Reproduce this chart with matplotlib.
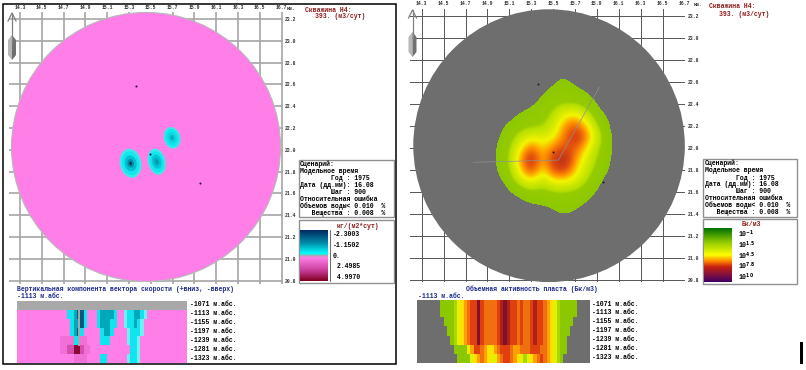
import numpy as np
import matplotlib
matplotlib.use("Agg")
import matplotlib.pyplot as plt
from matplotlib.colors import LinearSegmentedColormap, ListedColormap
from matplotlib.patches import Ellipse, Rectangle, Polygon

W, H = 806, 370
FONT = "Liberation Mono"
plt.rcParams["font.family"] = [FONT, "DejaVu Sans Mono"]
plt.rcParams["font.weight"] = "bold"
RED = "#8a1c1c"
NAVY = "#1c2a8a"

x_ticks = [14.3, 14.5, 14.7, 14.9, 15.1, 15.3, 15.5, 15.7, 15.9, 16.1, 16.3, 16.5, 16.7]
y_ticks = [23.2, 23.0, 22.8, 22.6, 22.4, 22.2, 22.0, 21.8, 21.6, 21.4, 21.2, 21.0, 20.8]
well_x = [15.365, 15.495, 15.955]
well_y = [22.583, 21.964, 21.691]
left_center_x, left_center_y, left_radius = 15.456, 22.026, 1.234
right_center_x, right_center_y, right_radius = 15.463, 22.021, 1.24

# left map: plume ellipses (x, y, half-width, half-height, tilt)
plume_x = [15.315, 15.554, 15.695]
plume_y = [21.876, 21.891, 22.110]
plume_a = [0.098, 0.080, 0.076]
plume_b = [0.135, 0.122, 0.100]
plume_tilt = [12, 14, 14]
plume_scale = [1.0, 0.82, 0.55, 0.3, 0.12]
plume_colors = [["#40e8e8", "#10e8ee", "#00c0d0", "#0090a8", "#103050"],
                ["#40e8e8", "#10e8ee", "#00c8d8", "#00a8b8", "#0090a8"],
                ["#40e8e8", "#10e8ee", "#10d8e0", "#00c0d0", "#00a0b0"]]

# right map: activity level read on a 0.1 km grid
field_x = [14.8, 14.9, 15.0, 15.1, 15.2, 15.3, 15.4, 15.5, 15.6, 15.7, 15.8, 15.9, 16.0, 16.1, 16.2]
field_y = [22.6, 22.5, 22.4, 22.3, 22.2, 22.1, 22.0, 21.9, 21.8, 21.7, 21.6, 21.5, 21.4]
field = [
 [0, 0, 0,   0,   0,   0,   0,   0.9, 1.0, 0.8, 0,   0,   0,   0, 0],
 [0, 0, 0,   0,   0,   0,   1.0, 1.5, 1.6, 1.5, 1.2, 0.3, 0,   0, 0],
 [0, 0, 0,   0,   0.2, 0.8, 1.5, 1.8, 1.9, 1.9, 1.7, 1.0, 0,   0, 0],
 [0, 0, 0,   0.5, 1.3, 1.6, 1.7, 2.1, 3.0, 3.2, 2.4, 1.5, 0.9, 0, 0],
 [0, 0, 0.6, 1.4, 1.7, 1.8, 1.9, 2.5, 3.8, 4.5, 3.4, 2.0, 1.2, 0, 0],
 [0, 0, 1.0, 1.7, 2.3, 2.9, 2.7, 3.0, 4.1, 5.3, 4.1, 2.4, 1.4, 0.3, 0],
 [0, 0.3, 1.2, 1.9, 3.0, 4.3, 3.2, 4.1, 4.6, 4.4, 3.2, 2.1, 1.4, 0.3, 0],
 [0, 0.3, 1.3, 2.0, 3.7, 5.5, 3.5, 5.0, 5.7, 3.8, 2.7, 1.9, 1.3, 0.2, 0],
 [0, 0.1, 1.2, 1.9, 3.3, 4.8, 3.0, 4.6, 4.8, 3.4, 2.4, 1.7, 1.1, 0, 0],
 [0, 0, 0.7, 1.6, 2.4, 3.0, 2.3, 3.0, 3.1, 2.7, 2.0, 1.4, 0.5, 0, 0],
 [0, 0, 0,   1.0, 1.5, 1.8, 1.7, 1.9, 1.9, 1.8, 1.5, 1.0, 0,   0, 0],
 [0, 0, 0,   0,   0.7, 1.1, 1.3, 1.4, 1.5, 1.4, 1.0, 0.2, 0,   0, 0],
 [0, 0, 0,   0,   0,   0,   0,   0.8, 0.9, 0.8, 0.2, 0,   0,   0, 0],
]
flow_x = [14.771, 15.548, 15.922]
flow_y = [21.870, 21.890, 22.552]

depth_labels = ["-1071 м.абс.", "-1113 м.абс.", "-1155 м.абс.", "-1197 м.абс.",
                "-1239 м.абс.", "-1281 м.абс.", "-1323 м.абс."]

section_left = [
 "G" * 51,
 "P"*15 + "cctddc" + "P"*3 + "cttttc" + "P"*2 + "lccttcl" + "P"*12,
 "P"*16 + "cttdc" + "P"*3 + "ctttcc" + "P"*2 + "lcctcl" + "P"*13,
 "P"*16 + "ctdc" + "P"*5 + "cttc" + "P"*4 + "lcccl" + "P"*13,
 "P"*13 + "mmmm" + "cc" + "mm" + "P"*4 + "ccc" + "P"*5 + "lccl" + "P"*14,
 "P"*13 + "mmnn" + "rr" + "nmm" + "P"*12 + "ccl" + "P"*14,
 "P"*17 + "mmmm" + "P"*4 + "cc" + "P"*6 + "lccl" + "P"*14,
]
left_codes = "GPmnrlctd"
left_palette = ["#a8a8a8", "#ff7ee8", "#f070d8", "#d84cb0", "#8a0a30",
                "#70f0f0", "#10e4ee", "#00a8bc", "#005a80"]

section_right = [
 "GGGGGGGaaaabyYoORRKROOOORDKDRROROORDRROoYybaaaaaGGGG",
 "GGGGGGGaaaabyYoORRKROOOORDKDRROROORDRROoYybaaaaaGGGG",
 "GGGGGGGGaaabyYoORRKROOOORDKDRROROORDRROoYybaaaaGGGGG",
 "GGGGGGGGGaabyYoORRKROOOORDKDRROROORDRROoYybaaaGGGGGG",
 "GGGGGGGGGGabyYoORRKROOOORDKDRROROORDRROoYybaaGGGGGGG",
 "GGGGGGGGGGGaaaa" + "yoRROoYYoORRROooOOORRROOoYybaa" + "GGGGGGG",
 "GGGGGGGGGGGGaaaa" + "yYoOoYyyoORROoYybyYoOROoYyb" + "a" + "GGGGGGGG",
]
right_codes = "GabyYoORDK"
right_palette = ["#6e6e6e", "#8cc800", "#a8d800", "#e4f000", "#ffe000",
                 "#ffa000", "#f07010", "#e04010", "#b02018", "#801030"]

vel_colors = ["#002a60", "#008ca8", "#00ffff", "#a8a8a8", "#ff80e8", "#c83c98", "#800020"]
vel_stops = [0.0, 0.25, 0.46, 0.5, 0.54, 0.8, 1.0]
act_colors = ["#007000", "#8cc800", "#ffff00", "#ff8000", "#c82010", "#801040", "#400060"]
act_stops = [0.0, 0.25, 0.5, 0.62, 0.72, 0.87, 1.0]
field_colors = ["#8cc800", "#96cc00", "#b8e000", "#f4f400", "#ff9800", "#e04a10", "#8a1820"]
field_stops = [0.0, 0.18, 0.22, 0.42, 0.56, 0.72, 1.0]

info_lines = ["Сценарий:", "Модельное время", "        Год : 1975", "Дата (дд.мм): 16.08",
              "        Шаг : 900", "Относительная ошибка", "Объемов воды< 0.010  %",
              "   Вещества : 0.008  %"]
vel_ticks = ["-2.3003", "-1.1502", "0.", " 2.4985", " 4.9970"]
act_ticks = ["10$^{-1}$", "10$^{1.5}$", "10$^{4.5}$", "10$^{7.8}$", "10$^{10}$"]

fig = plt.figure(figsize=(W / 100, H / 100), dpi=100, facecolor="white")


def px_axes(x0, y0, x1, y1, **kw):
    return fig.add_axes([x0 / W, 1 - y1 / H, (x1 - x0) / W, (y1 - y0) / H], **kw)


def ftext(x, y, s, size=4.7, color="black", ha="left", **kw):
    fig.text(x / W, 1 - y / H, s, fontsize=size, color=color, ha=ha, va="center", **kw)


def frect(x0, y0, x1, y1, **kw):
    fig.add_artist(Rectangle((x0 / W, 1 - y1 / H), (x1 - x0) / W, (y1 - y0) / H,
                             transform=fig.transFigure, **kw))


def make_map(x14, x_step, y23, y_step, left, top, right, bottom, grid_c, grid_lw, pad):
    ax = px_axes(left, top, right, bottom)
    ax.set_xlim(14.3 + (left - x14) / x_step, 14.3 + (right - x14) / x_step)
    ax.set_ylim(23.2 - (bottom - y23) / y_step, 23.2 - (top - y23) / y_step)
    ax.patch.set_alpha(0)
    for s in ax.spines.values():
        s.set_visible(False)
    ax.xaxis.tick_top()
    ax.yaxis.tick_right()
    ax.set_xticks(x_ticks, [f"{v:.1f}" for v in x_ticks])
    ax.set_yticks(y_ticks, [f"{v:.1f}" for v in y_ticks])
    ax.tick_params(length=0, labelsize=3.4, pad=pad, colors="#303030")
    ax.grid(True, color=grid_c, lw=grid_lw)
    ax.set_axisbelow(True)
    return ax


def compass(x, top):
    fig.add_artist(plt.Line2D([(x) / W] * 2, [1 - top / H, 1 - (top + 30) / H], color="#808080", lw=0.9))
    fig.add_artist(plt.Line2D([(x - 4) / W, x / W, (x + 4) / W], [1 - (top + 8) / H, 1 - top / H, 1 - (top + 8) / H],
                              color="#808080", lw=0.9))
    left = [(x - 4, top + 27), (x, top + 22), (x, top + 47), (x - 4, top + 42)]
    right = [(x, top + 22), (x + 4, top + 27), (x + 4, top + 42), (x, top + 47)]
    for pts, c in ((left, "#b8b8b8"), (right, "#707070")):
        fig.add_artist(Polygon([(a / W, 1 - b / H) for a, b in pts], closed=True, color=c,
                               transform=fig.transFigure, lw=0))


def gradient(x0, y0, x1, y1, stops, colors):
    ax = px_axes(x0, y0, x1, y1, zorder=6)
    cmap = LinearSegmentedColormap.from_list("g", list(zip(stops, colors)))
    ax.imshow(np.linspace(0, 1, 128)[:, None], aspect="auto", cmap=cmap)
    ax.axis("off")


def section(x0, y0, x1, y1, rows, codes, palette):
    ax = px_axes(x0, y0, x1, y1)
    data = [[codes.index(ch) for ch in row] for row in rows]
    ax.imshow(data, aspect="auto", cmap=ListedColormap(palette), vmin=0, vmax=len(palette) - 1,
              interpolation="nearest")
    ax.axis("off")
    return ax


def info_box(x0, x1, y0, y_div, y2, y_bot, text_x):
    frect(x0, y0, x1, y_div, fc="white", ec="#909090", lw=1, zorder=3)
    frect(x0, y2, x1, y_bot, fc="white", ec="#909090", lw=1, zorder=3)
    for line, y in zip(info_lines, [164.3, 171.7, 179, 185.7, 192.3, 199.3, 206.7, 213.3]):
        fig.text(text_x / W, 1 - (y + y0 - 160) / H, line, fontsize=4.7, color="black", va="center", zorder=5)


# LEFT PANEL ---------------------------------------------------------------
frect(3, 3.5, 396, 364, fc="none", ec="black", lw=1.1, zorder=6)
axL = make_map(20, 109, 19, 109, 9, 11.5, 283, 284, "#a6a6a6", 1.2, 1)
axL.add_patch(Ellipse((left_center_x, left_center_y), 2 * left_radius, 2 * left_radius,
                      fc="#ff7ee8", ec="#b8b8b8", lw=0.8, zorder=2))
for px, py, a, b, t, cols in zip(plume_x, plume_y, plume_a, plume_b, plume_tilt, plume_colors):
    for s, c in zip(plume_scale, cols):
        axL.add_patch(Ellipse((px, py), 2 * a * s, 2 * b * s, angle=t, fc=c, ec="none", zorder=3))
axL.scatter(well_x, well_y, s=2.2, color="#200040", lw=0, zorder=4)
compass(12, 13)
ftext(305, 10, "Скважина Н4:", color=RED)
ftext(315, 17, "393. (м3/сут)", color=RED)
ftext(287, 8, "км.", size=3.4, color="#303030")

info_box(299, 394, 160, 217, 220, 283, 300)
gradient(299.5, 230, 327, 281, vel_stops, vel_colors)
fig.add_artist(plt.Line2D([330 / W] * 2, [1 - 230 / H, 1 - 281 / H], color="#505050", lw=0.6, zorder=5))
ftext(358, 226.7, "кг/(м2*сут)", color=RED, ha="center", zorder=5)
for s, y in zip(vel_ticks, [234, 245.7, 256, 266.7, 277.7]):
    ftext(333, y, s, zorder=5)

ftext(17, 289.3, "Вертикальная компонента вектора скорости (+вниз, -вверх)", color=NAVY)
ftext(17, 296.7, "-1113 м.абс.", color=NAVY)
axS = section(17, 301, 187, 363, section_left, left_codes, left_palette)
axS.plot([18, 18], [0, 4.5], color="#a8a8a8", lw=1.4)
axS.set_xlim(-0.5, 50.5)
axS.set_ylim(6.5, -0.5)
for i, s in enumerate(depth_labels):
    ftext(190, 304.3 + 8.95 * i, s)

# RIGHT PANEL --------------------------------------------------------------
axR = make_map(421.7, 109.5, 16, 110, 410, 9, 685, 282, "#555555", 0.7, 2)
axR.add_patch(Ellipse((right_center_x, right_center_y), 2 * right_radius, 2 * right_radius,
                      fc="#6e6e6e", ec="none", zorder=2))
fcmap = LinearSegmentedColormap.from_list("f", list(zip(field_stops, field_colors)))
fcmap.set_under((0, 0, 0, 0))
dx, dy = 0.05, 0.05
axR.imshow(field, extent=[field_x[0] - dx, field_x[-1] + dx, field_y[-1] - dy, field_y[0] + dy],
           cmap=fcmap, vmin=1, vmax=6, interpolation="bicubic", interpolation_stage="data",
           aspect="auto", zorder=3)
axR.plot(flow_x, flow_y, color="#909090", lw=0.5, zorder=4)
axR.scatter(well_x, well_y, s=2.2, color="#202020", lw=0, zorder=5)
axR.set_xlim(14.3 + (410 - 421.7) / 109.5, 14.3 + (685 - 421.7) / 109.5)
axR.set_ylim(23.2 - (282 - 16) / 110, 23.2 - (9 - 16) / 110)
compass(412.5, 10)
ftext(709, 7, "Скважина Н4:", color=RED)
ftext(719, 14, "393. (м3/сут)", color=RED)
ftext(694, 5, "км.", size=3.4, color="#303030")

info_box(703, 797, 159, 216.5, 219, 284, 705)
gradient(703.5, 228, 731, 282, act_stops, act_colors)
ftext(751.7, 224.5, "Бк/м3", color=RED, ha="center", zorder=5)
for s, y in zip(act_ticks, [234.5, 245, 256, 266.7, 277]):
    ftext(737.7, y, s, size=4.7, zorder=5)

ftext(465.7, 289, "Объемная активность пласта (Бк/м3)", color=NAVY)
ftext(418, 296, "-1113 м.абс.", color=NAVY)
section(417.3, 300, 590, 363.3, section_right, right_codes, right_palette)
for i, s in enumerate(depth_labels):
    ftext(592, 304 + 8.95 * i, s)

frect(800, 342, 803, 364, fc="black", ec="none", zorder=6)

fig.savefig("out.png", dpi=100)
